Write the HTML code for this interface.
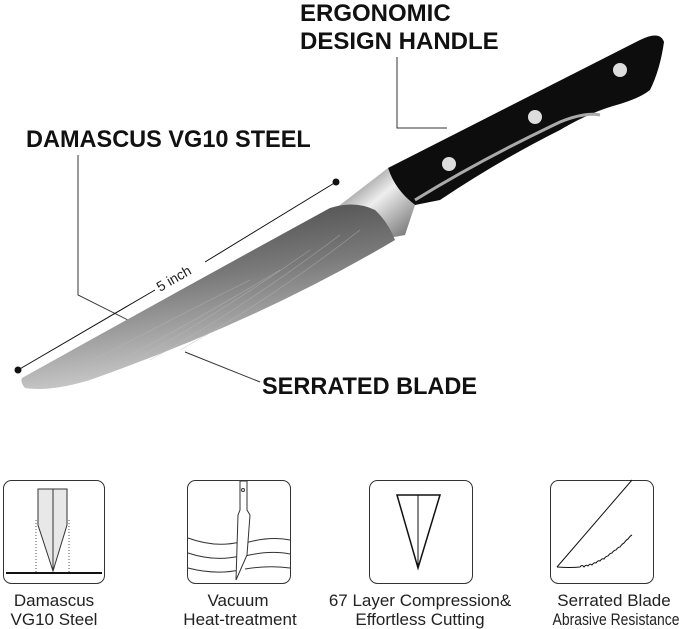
<!DOCTYPE html>
<html><head><style>
body{margin:0;background:#fff;width:679px;height:629px;overflow:hidden}
svg{display:block}
.t{font-family:"Liberation Sans",sans-serif;font-weight:bold;fill:#111}
.c{font-family:"Liberation Sans",sans-serif;fill:#222;font-size:17px}
</style></head><body>
<svg width="679" height="629" viewBox="0 0 679 629">
<defs>
<linearGradient id="bl" x1="0" y1="0" x2="0.3" y2="1">
<stop offset="0" stop-color="#3a3a3a"/><stop offset="0.5" stop-color="#7a7a7a"/><stop offset="1" stop-color="#d0d0d0"/></linearGradient>
<linearGradient id="bo" x1="0" y1="0" x2="1" y2="1">
<stop offset="0" stop-color="#444"/><stop offset="0.5" stop-color="#eee"/><stop offset="1" stop-color="#666"/></linearGradient>
</defs>
<text class="t" font-size="24" x="300" y="21">ERGONOMIC</text>
<text class="t" font-size="24" x="300" y="49">DESIGN HANDLE</text>
<g transform="translate(26,147) scale(0.98,1)"><text class="t" font-size="24">DAMASCUS VG10 STEEL</text></g>
<g transform="translate(262,394) scale(0.98,1)"><text class="t" font-size="24">SERRATED BLADE</text></g>
<polyline points="397,57 397,128 447,128" fill="none" stroke="#333" stroke-width="1"/>
<polyline points="78,155 78,295 132,322" fill="none" stroke="#333" stroke-width="1"/>
<line x1="185" y1="352" x2="260" y2="382" stroke="#333" stroke-width="1"/>
<path d="M388,168 L640,40 Q660,30 664,42 Q660,70 650,90 Q640,98 620,104 Q590,112 560,130 Q500,160 440,200 L415,205 Q395,190 388,168Z" fill="#0d0d0d"/>
<path d="M415,200 Q480,160 560,122 Q585,112 600,115" fill="none" stroke="#aaa" stroke-width="3"/>
<circle cx="620" cy="70" r="7" fill="#ddd"/><circle cx="535" cy="117" r="7" fill="#ddd"/><circle cx="449" cy="164" r="7" fill="#ddd"/>
<path d="M340,205 L388,168 Q395,190 415,205 L405,235 Q380,240 372,238 L330,210Z" fill="url(#bo)"/>
<path d="M330,208 Q355,200 375,210 Q388,222 395,240 Q260,320 90,380 Q50,392 25,388 Q20,382 22,378 Q180,290 330,208Z" fill="url(#bl)"/>
<g fill="none" stroke="#bbb" stroke-width="0.6" opacity="0.6">
<path d="M60,378 Q150,330 250,280 M90,376 Q180,330 280,270 M120,368 Q210,320 310,250 M150,360 Q240,310 340,235 M180,350 Q270,300 360,230"/>
</g>
<line x1="18" y1="370" x2="155" y2="290" stroke="#111" stroke-width="1"/>
<line x1="205" y1="262" x2="336" y2="182" stroke="#111" stroke-width="1"/>
<circle cx="18" cy="370" r="3.5" fill="#111"/><circle cx="336" cy="182" r="3.5" fill="#111"/>
<text font-family="Liberation Sans,sans-serif" font-size="14" fill="#222" transform="translate(160,292) rotate(-30)">5 inch</text>
<g fill="none" stroke="#333" stroke-width="1">
<rect x="3.5" y="480.5" width="101" height="103" rx="8"/>
<rect x="187.5" y="480.5" width="103" height="103" rx="8"/>
<rect x="369.5" y="480.5" width="103" height="103" rx="8"/>
<rect x="550.5" y="480.5" width="103" height="103" rx="8"/>
</g>
<path d="M38,489 L67,489 L67,525 L53,571 L38,525Z" fill="#e8e8e8" stroke="#333"/>
<line x1="53" y1="489" x2="53" y2="571" stroke="#333"/>
<line x1="36" y1="520" x2="36" y2="573" stroke="#555" stroke-dasharray="1,2"/>
<line x1="69" y1="520" x2="69" y2="573" stroke="#555" stroke-dasharray="1,2"/>
<line x1="6" y1="573" x2="102" y2="573" stroke="#111" stroke-width="2"/>
<path d="M188,538 Q215,548 240,542 M245,543 Q270,536 290,540 M188,553 Q215,562 240,556 M245,556 Q270,550 290,554 M188,568 Q215,575 240,570 M245,569 Q270,565 290,568" fill="none" stroke="#333"/>
<path d="M240,481 L247,481 L247,510 L250,515 L247,555 L236,580 L238,515 L240,510Z" fill="#fff" stroke="#333"/>
<circle cx="243" cy="490" r="1.5" fill="none" stroke="#333"/>
<path d="M397,495 L440,495 L418,568Z" fill="none" stroke="#111" stroke-width="1.5"/>
<line x1="418" y1="495" x2="418" y2="568" stroke="#111"/>
<line x1="632" y1="480" x2="557" y2="567" stroke="#111"/>
<path d="M557,567 Q570,568 580,567 q2,-3 4,0 q2,-3 4,-1 q2,-3 4,-1 q2,-3 4,-2 q2,-3 4,-2 q2,-3 4,-2 q2,-3 4,-3 q2,-3 4,-3 q2,-3 4,-3 q2,-3 4,-3 q2,-3 4,-4 q2,-3 4,-4 q2,-3 4,-4" fill="none" stroke="#111"/>
<text class="c" x="54" y="606" text-anchor="middle">Damascus</text>
<text class="c" x="54" y="625" text-anchor="middle">VG10 Steel</text>
<text class="c" x="238" y="606" text-anchor="middle">Vacuum</text>
<text class="c" x="240" y="625" text-anchor="middle">Heat-treatment</text>
<text class="c" x="420" y="606" text-anchor="middle">67 Layer Compression&amp;</text>
<text class="c" x="420" y="625" text-anchor="middle">Effortless Cutting</text>
<text class="c" x="614" y="606" text-anchor="middle">Serrated Blade</text>
<g transform="translate(616,625) scale(0.82,1)"><text class="c" x="0" y="0" text-anchor="middle">Abrasive Resistance</text></g>
</svg>
</body></html>
